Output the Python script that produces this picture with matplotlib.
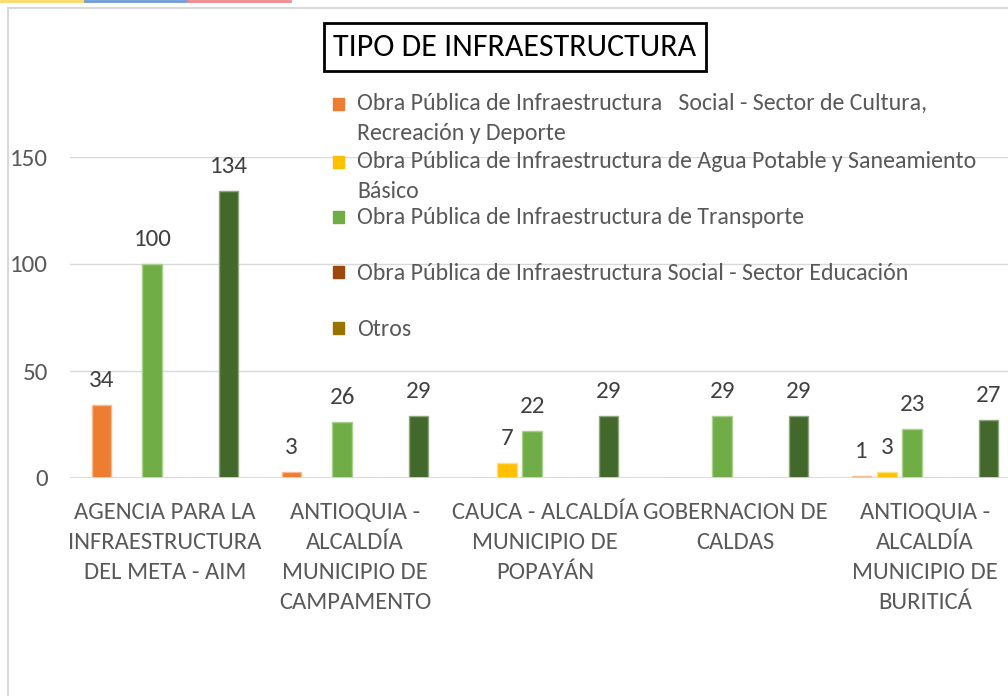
import numpy as np
import matplotlib.pyplot as plt
from matplotlib.patches import Rectangle
from matplotlib.lines import Line2D

plt.rcParams['font.family'] = ['Carlito', 'Liberation Sans Narrow', 'Lato', 'DejaVu Sans']

categorias = ['AGENCIA PARA LA\nINFRAESTRUCTURA\nDEL META - AIM',
              'ANTIOQUIA -\nALCALDÍA\nMUNICIPIO DE\nCAMPAMENTO',
              'CAUCA - ALCALDÍA\nMUNICIPIO DE\nPOPAYÁN',
              'GOBERNACION DE\nCALDAS',
              'ANTIOQUIA -\nALCALDÍA\nMUNICIPIO DE\nBURITICÁ']

nombres = ['Obra Pública de Infraestructura   Social - Sector de Cultura,\nRecreación y Deporte',
           'Obra Pública de Infraestructura de Agua Potable y Saneamiento\nBásico',
           'Obra Pública de Infraestructura de Transporte',
           'Obra Pública de Infraestructura Social - Sector Educación',
           'Otros',
           'Total']

cultura = [34, 3, 0, 0, 1]
agua = [0, 0, 7, 0, 3]
transporte = [100, 26, 22, 29, 23]
educacion = [0, 0, 0, 0, 0]
otros = [0, 0, 0, 0, 0]
total = [134, 29, 29, 29, 27]
valores = [cultura, agua, transporte, educacion, otros, total]

colores = ['#ED7D31', '#FFC000', '#70AD47', '#9E480E', '#997300', '#43682B']
bordes = ['#F8B98F', '#FFDF80', '#A9D08E', '#C98A62', '#C9AE66', '#8EA77E']

W, H = 1008, 696
fig = plt.figure(figsize=(W / 100, H / 100), dpi=100)


def fx(x):
    return x / W


def fy(y):
    return 1 - y / H


ax = fig.add_axes([fx(70), fy(478), 950 / W, (478 - 157) / H])

x = np.arange(len(categorias))
paso = 0.1337
ancho = 0.105
for i, (vals, c, b) in enumerate(zip(valores, colores, bordes)):
    pos = x + (i - 2.5) * paso
    ax.bar(pos, vals, width=ancho, color=c, edgecolor=b, linewidth=1, zorder=3)
    for p, v in zip(pos, vals):
        if v > 0:
            ax.annotate(str(v), (p, v), xytext=(0, 10), textcoords='offset points',
                        ha='center', va='bottom', fontsize=18, color='#404040')

ax.set_xlim(-0.5, 4.5)
ax.set_ylim(0, 150)
ax.set_yticks([0, 50, 100, 150])
ax.grid(axis='y', color='#D9D9D9', linewidth=1, zorder=0)
ax.axhline(0, color='#D9D9D9', linewidth=2, zorder=4)
for s in ax.spines.values():
    s.set_visible(False)
ax.tick_params(axis='y', length=0, pad=16, labelsize=18, labelcolor='#595959')
ax.set_xticks(x)
ax.set_xticklabels(categorias, fontsize=17.7, color='#595959', linespacing=1.53)
ax.tick_params(axis='x', length=0, pad=17)

# leyenda
ly = [104, 162, 217, 272, 328]
for i in range(5):
    fig.add_artist(Rectangle((fx(333), fy(ly[i] + 6)), 11 / W, 12 / H,
                             transform=fig.transFigure, color=colores[i]))
    extra = 29 * nombres[i].count('\n')
    fig.text(fx(357), fy(ly[i] + 7.5 + extra), nombres[i], fontsize=17.2, color='#595959',
             va='baseline', linespacing=1.55)

# titulo
fig.text(fx(515), fy(47), 'TIPO DE INFRAESTRUCTURA', fontsize=23, color='black',
         ha='center', va='center',
         bbox=dict(boxstyle='square,pad=0.3', facecolor='white', edgecolor='black', linewidth=2))

# marco
fig.add_artist(Line2D([fx(8), fx(8)], [fy(8), 0], color='#D9D9D9', linewidth=1.5, transform=fig.transFigure))
fig.add_artist(Line2D([fx(8), 1], [fy(8), fy(8)], color='#D9D9D9', linewidth=1.5, transform=fig.transFigure))
fig.add_artist(Line2D([0, fx(85)], [fy(1), fy(1)], color='#FFD966', linewidth=2, transform=fig.transFigure))
fig.add_artist(Line2D([fx(85), fx(188)], [fy(1), fy(1)], color='#6F9BD8', linewidth=2, transform=fig.transFigure))
fig.add_artist(Line2D([fx(188), fx(290)], [fy(1), fy(1)], color='#F4868C', linewidth=2, transform=fig.transFigure))

fig.savefig('out.png', dpi=100)
